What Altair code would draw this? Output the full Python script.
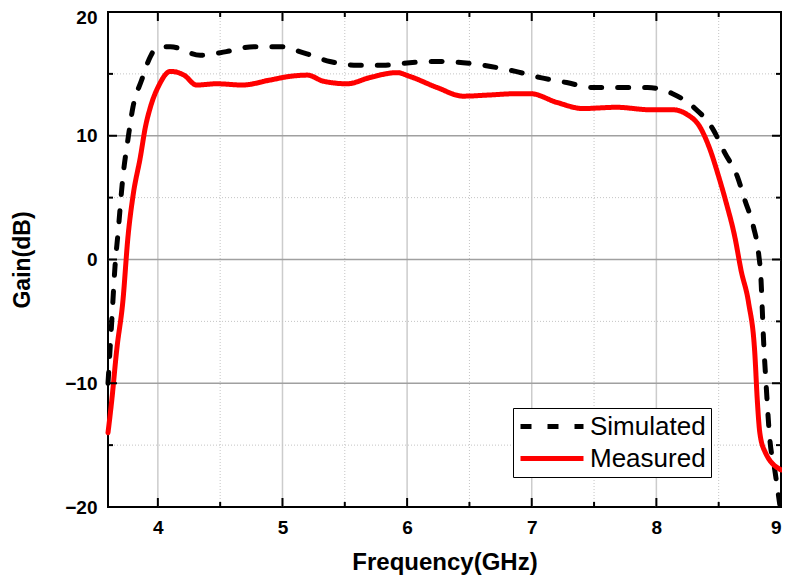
import altair as alt
import pandas as pd

# ---- data ----
sim_freq = [3.6, 3.63, 3.656, 3.68, 3.72, 3.76, 3.80, 3.87, 3.94, 3.98, 4.10, 4.34, 4.55, 4.77,
            4.98, 5.17, 5.38, 5.60, 5.81, 6.02, 6.24, 6.45, 6.67, 6.87, 7.07, 7.28, 7.49, 7.71,
            7.93, 8.13, 8.30, 8.45, 8.55, 8.65, 8.71, 8.78, 8.82, 8.84, 8.85, 8.86, 8.88, 8.91,
            8.95, 8.99]
sim_gain = [-10, -5, -0.6, 2.1, 6.7, 9.7, 12.3, 14.5, 16.4, 17.0, 17.2, 16.5, 16.8, 17.2,
            17.2, 16.7, 16.0, 15.7, 15.7, 15.9, 16.0, 15.9, 15.6, 15.2, 14.7, 14.3, 13.9, 13.9,
            13.9, 13.4, 12.3, 10.6, 8.6, 6.7, 4.8, 2.6, 0.5, -1.7, -4.1, -6.5, -10, -14.5,
            -17, -19.8]

meas_freq = [3.6, 3.63, 3.67, 3.72, 3.76, 3.80, 3.86, 3.90, 3.94, 4.01, 4.10, 4.21, 4.31, 4.47,
             4.68, 4.90, 5.06, 5.20, 5.33, 5.52, 5.70, 5.92, 6.02, 6.24, 6.45, 6.67, 6.88, 6.99,
             7.20, 7.41, 7.68, 7.95, 8.13, 8.25, 8.35, 8.43, 8.50, 8.56, 8.63, 8.68, 8.74, 8.79,
             8.81, 8.83, 8.87, 9.0]
meas_gain = [-14, -11.4, -7.3, -3.3, 1.8, 5.1, 8.3, 10.7, 12.3, 14.1, 15.2, 14.9, 14.1, 14.2,
             14.1, 14.5, 14.8, 14.9, 14.4, 14.2, 14.7, 15.1, 14.8, 13.9, 13.2, 13.3, 13.4, 13.4,
             12.7, 12.2, 12.3, 12.1, 12.1, 11.7, 10.7, 8.9, 6.7, 4.6, 1.8, -0.9, -3.5, -7.6,
             -11.4, -14.0, -15.5, -17.0]

series_names = ["Simulated", "Measured"]
x_labels = [4, 5, 6, 7, 8, 9]
y_labels = [-20, -10, 0, 10, 20]
x_major = [4, 5, 6, 7, 8]
x_minor = [4.5, 5.5, 6.5, 7.5, 8.5]
y_major = [-10, 0, 10]
y_minor = [-15, -5, 5, 15]

W, H = 673, 495
FONT = "Liberation Sans"

df = pd.concat([
    pd.DataFrame({"freq": sim_freq, "gain": sim_gain, "series": series_names[0]}),
    pd.DataFrame({"freq": meas_freq, "gain": meas_gain, "series": series_names[1]}),
])

xs = alt.Scale(domain=[3.6, 9], nice=False, zero=False)
ys = alt.Scale(domain=[-20, 20], nice=False, zero=False)

xmaj = pd.DataFrame({"v": x_major})
xmin = pd.DataFrame({"v": x_minor})
ymaj = pd.DataFrame({"v": y_major})
ymin = pd.DataFrame({"v": y_minor})

# grid
gx_major = alt.Chart(xmaj).mark_rule(color="#cccccc", strokeWidth=1.5).encode(x=alt.X("v:Q", scale=xs))
gx_minor = alt.Chart(xmin).mark_rule(color="#c4c4c4", strokeWidth=1, strokeDash=[1, 2]).encode(x=alt.X("v:Q", scale=xs))
gy_major = alt.Chart(ymaj).mark_rule(color="#a0a0a0", strokeWidth=1.5).encode(y=alt.Y("v:Q", scale=ys))
gy_minor = alt.Chart(ymin).mark_rule(color="#c4c4c4", strokeWidth=1, strokeDash=[1, 2]).encode(y=alt.Y("v:Q", scale=ys))

# lines
lines = alt.Chart(df).mark_line(strokeWidth=5, strokeCap="round", interpolate="monotone").encode(
    x=alt.X("freq:Q", scale=xs,
            axis=alt.Axis(values=x_labels, title="Frequency(GHz)", ticks=False, tickSize=0,
                          domain=False, grid=False, labelPadding=11, titlePadding=13, format="d",
                          titleFontSize=24, labelFlush=1)),
    y=alt.Y("gain:Q", scale=ys,
            axis=alt.Axis(values=y_labels, title="Gain(dB)", ticks=False, tickSize=0,
                          domain=False, grid=False, labelPadding=11, titlePadding=30, format="d",
                          titleFontSize=23,
                          labelOffset={"condition": {"test": "datum.value === 20", "value": 5}, "value": 0})),
    color=alt.Color("series:N", scale=alt.Scale(domain=series_names, range=["black", "red"]),
                    legend=alt.Legend(title=None)),
    strokeDash=alt.StrokeDash("series:N", scale=alt.Scale(domain=series_names, range=[[11, 16], [1, 0]]),
                              legend=alt.Legend(title=None)),
    order=alt.Order("freq:Q"),
)

# inward ticks on all four sides
def xticks(data, length):
    bot = alt.Chart(data).mark_rule(color="black", strokeWidth=2).encode(
        x=alt.X("v:Q", scale=xs), y=alt.value(H), y2=alt.value(H - length))
    top = alt.Chart(data).mark_rule(color="black", strokeWidth=2).encode(
        x=alt.X("v:Q", scale=xs), y=alt.value(0), y2=alt.value(length))
    return [bot, top]

def yticks(data, length):
    left = alt.Chart(data).mark_rule(color="black", strokeWidth=2).encode(
        y=alt.Y("v:Q", scale=ys), x=alt.value(0), x2=alt.value(length))
    right = alt.Chart(data).mark_rule(color="black", strokeWidth=2).encode(
        y=alt.Y("v:Q", scale=ys), x=alt.value(W), x2=alt.value(W - length))
    return [left, right]

ticks = xticks(xmaj, 9) + xticks(xmin, 5) + yticks(ymaj, 9) + yticks(ymin, 5)

chart = alt.layer(gx_major, gx_minor, gy_major, gy_minor, lines, *ticks).properties(
    width=W, height=H,
    autosize=alt.AutoSizeParams(type="none"),
    padding={"left": 100, "top": 4, "right": 1, "bottom": 72},
).configure_view(
    stroke="black", strokeWidth=2
).configure_axis(
    labelFont=FONT, labelFontSize=19, labelFontWeight="bold", labelColor="black",
    titleFont=FONT, titleFontWeight="bold", titleColor="black",
).configure_legend(
    orient="none", legendX=405, legendY=396,
    strokeColor="black", fillColor="white", padding=5,
    symbolType="stroke", symbolSize=3969, symbolStrokeWidth=5,
    labelFont=FONT, labelFontSize=26, labelColor="black", labelOffset=4,
    rowPadding=5, clipHeight=27,
)

chart.save("out.html", embed_options={"renderer": "svg", "actions": False})
